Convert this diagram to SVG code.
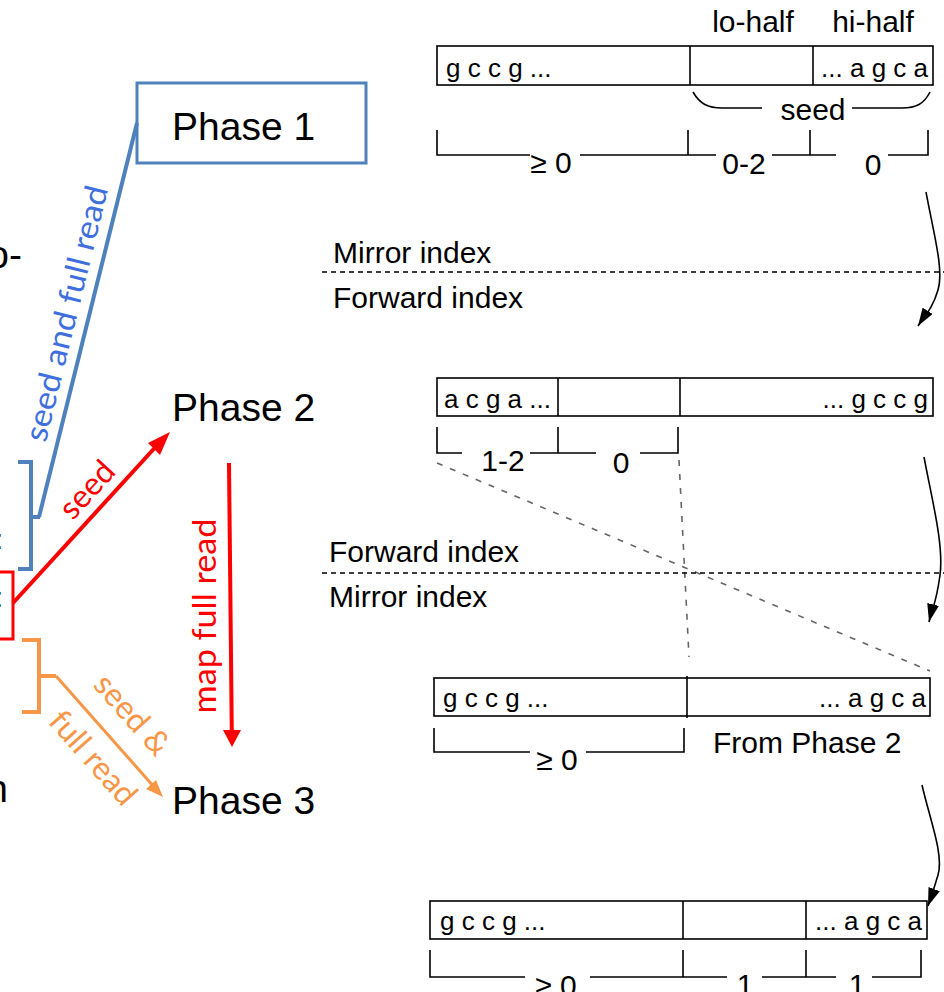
<svg xmlns="http://www.w3.org/2000/svg" width="944" height="992" viewBox="0 0 944 992">
  <style>
    .sans { font-family: "Liberation Sans", Arial, Helvetica, sans-serif; fill: #000; }
    .phase { font-size: 39px; }
    .lbl { font-size: 30px; }
    .seq { font-size: 26px; }
    .hand { font-family: Lato, "Open Sans", sans-serif; font-size: 32px; }
    .bar { fill: #fff; stroke: #000; stroke-width: 1.6; }
    .thin { fill: none; stroke: #000; stroke-width: 1.6; }
    .hdash { fill: none; stroke: #000; stroke-width: 1.6; stroke-dasharray: 5 4; }
    .gdash { fill: none; stroke: #666; stroke-width: 1.6; stroke-dasharray: 6 8; }
  </style>
  <defs>
    <marker id="headBlack" viewBox="0 0 18 12" refX="18" refY="6" markerWidth="18" markerHeight="12" markerUnits="userSpaceOnUse" orient="auto">
      <path d="M0,0 L18,6 L0,12 z" fill="#000"/>
    </marker>
  </defs>
  <rect width="944" height="992" fill="#fff"/>

  <!-- partial labels cut at the left margin -->
  <g id="edge-text" class="sans">
    <text class="phase" x="22" y="268" text-anchor="end">o-</text>
    <text x="3" y="549" font-size="28" text-anchor="end">:</text>
    <text x="3" y="607" font-size="28" text-anchor="end">:</text>
    <text class="phase" x="8" y="802" text-anchor="end">n</text>
  </g>

  <!-- phase nodes -->
  <g id="phase1">
    <rect x="137" y="83" width="229" height="80" fill="#fff" stroke="#4f81bd" stroke-width="3"/>
    <text class="sans phase" x="172" y="140">Phase 1</text>
  </g>
  <g id="phase2">
    <text class="sans phase" x="172" y="421">Phase 2</text>
  </g>
  <g id="phase3">
    <text class="sans phase" x="172" y="814">Phase 3</text>
  </g>

  <!-- groupings on the left -->
  <g id="blue-bracket">
    <path d="M18 462 H31 V569 H18 M31 517 H40" fill="none" stroke="#4f81bd" stroke-width="4"/>
  </g>
  <g id="red-box">
    <rect x="-10" y="572" width="23" height="67" fill="none" stroke="#ff0000" stroke-width="3"/>
  </g>
  <g id="orange-bracket">
    <path d="M22 640 H39 V712 H22 M39 676 H56" fill="none" stroke="#f79646" stroke-width="4"/>
  </g>

  <!-- connectors between groups and phases -->
  <g id="connectors">
    <line x1="39" y1="517" x2="137" y2="123" stroke="#4f81bd" stroke-width="4"/>
    <text class="hand" fill="#3e6fdc" text-anchor="middle" textLength="262" lengthAdjust="spacingAndGlyphs" transform="translate(77 316) rotate(-76.2)">seed and full read</text>

    <line x1="13" y1="603" x2="161" y2="441" stroke="#ff0000" stroke-width="4"/>
    <polygon points="170,432 148,443 160,455" fill="#ff0000"/>
    <text class="hand" fill="#ff0000" text-anchor="middle" transform="translate(95 497) rotate(-47.4)">seed</text>

    <line x1="229" y1="463" x2="231.8" y2="733" stroke="#ff0000" stroke-width="4"/>
    <polygon points="232,747 223,730 241,730" fill="#ff0000"/>
    <text class="hand" fill="#ff0000" text-anchor="middle" textLength="195" lengthAdjust="spacingAndGlyphs" transform="translate(216 616) rotate(-90)">map full read</text>

    <line x1="56" y1="676" x2="155" y2="788" stroke="#f79646" stroke-width="3"/>
    <polygon points="163,797 146,789 156,780" fill="#f79646"/>
    <text class="hand" fill="#f79646" text-anchor="middle" transform="translate(124 722) rotate(48.5)">seed &amp;</text>
    <text class="hand" fill="#f79646" text-anchor="middle" transform="translate(85 765) rotate(48.5)">full read</text>

    <!-- transitions between read layouts -->
    <path d="M926 192 C934 235 944 270 938 290 S925 315 918 326" class="thin" marker-end="url(#headBlack)"/>
    <path d="M924 457 C932 500 944 545 940 575 S933 605 929 622" class="thin" marker-end="url(#headBlack)"/>
    <path d="M922 785 C930 820 944 855 938 875 S932 895 928 906" class="thin" marker-end="url(#headBlack)"/>
  </g>

  <!-- layout 1: mirror index -->
  <g id="read1" class="sans">
    <text class="lbl" x="753" y="32" text-anchor="middle">lo-half</text>
    <text class="lbl" x="873" y="32" text-anchor="middle">hi-half</text>
    <rect class="bar" x="437" y="46" width="496" height="39"/>
    <line class="thin" x1="690" y1="46" x2="690" y2="85"/>
    <line class="thin" x1="813" y1="46" x2="813" y2="85"/>
    <text class="seq" x="446" y="77">g c c g ...</text>
    <text class="seq" x="928" y="77" text-anchor="end">... a g c a</text>
    <path class="thin" d="M693 92 C700 104 708 108 722 108 H762 M852 108 H902 C916 108 924 104 930 92"/>
    <text class="lbl" x="813" y="120" text-anchor="middle">seed</text>
    <path class="thin" d="M437 130 V155 H530 M580 155 H688 V130 M688 155 H716 M772 155 H810 V130 M810 155 H836 M888 155 H928 V130"/>
    <text class="lbl" x="551" y="173" text-anchor="middle">≥ 0</text>
    <text class="lbl" x="744" y="174" text-anchor="middle">0-2</text>
    <text class="lbl" x="873" y="175" text-anchor="middle">0</text>
  </g>

  <g id="divider1" class="sans">
    <text class="lbl" x="333" y="263">Mirror index</text>
    <line class="hdash" x1="322" y1="272" x2="944" y2="272"/>
    <text class="lbl" x="333" y="308">Forward index</text>
  </g>

  <!-- layout 2: forward index -->
  <g id="read2" class="sans">
    <rect class="bar" x="437" y="378" width="496" height="38"/>
    <line class="thin" x1="558" y1="378" x2="558" y2="416"/>
    <line class="thin" x1="680" y1="378" x2="680" y2="416"/>
    <text class="seq" x="444" y="408">a c g a ...</text>
    <text class="seq" x="928" y="408" text-anchor="end">... g c c g</text>
    <path class="thin" d="M437 427 V453 H462 M530 453 H558 V427 M558 453 H596 M640 453 H678 V427"/>
    <text class="lbl" x="503" y="471" text-anchor="middle">1-2</text>
    <text class="lbl" x="621" y="473" text-anchor="middle">0</text>
  </g>

  <g id="divider2" class="sans">
    <line class="gdash" x1="437" y1="463" x2="930" y2="671"/>
    <line class="gdash" x1="679" y1="460" x2="689" y2="657"/>
    <text class="lbl" x="329" y="562">Forward index</text>
    <line class="hdash" x1="322" y1="573" x2="944" y2="573"/>
    <text class="lbl" x="329" y="607">Mirror index</text>
  </g>

  <!-- layout 3: mirror index -->
  <g id="read3" class="sans">
    <rect class="bar" x="434" y="678" width="496" height="38"/>
    <line class="thin" x1="687" y1="676" x2="687" y2="718"/>
    <text class="seq" x="443" y="707">g c c g ...</text>
    <text class="seq" x="926" y="707" text-anchor="end">... a g c a</text>
    <path class="thin" d="M434 728 V752 H530 M586 752 H684 V728"/>
    <text class="lbl" x="557" y="770" text-anchor="middle">≥ 0</text>
    <text class="lbl" x="713" y="753">From Phase 2</text>
  </g>

  <!-- layout 4: forward index -->
  <g id="read4" class="sans">
    <rect class="bar" x="430" y="901" width="497" height="38"/>
    <line class="thin" x1="683" y1="901" x2="683" y2="939"/>
    <line class="thin" x1="806" y1="901" x2="806" y2="939"/>
    <text class="seq" x="440" y="930">g c c g ...</text>
    <text class="seq" x="922" y="930" text-anchor="end">... a g c a</text>
    <path class="thin" d="M430 950 V977 H525 M590 977 H683 V950 M683 977 H727 M762 977 H806 V950 M806 977 H836 M872 977 H921 V950"/>
    <text class="lbl" x="556" y="996" text-anchor="middle">≥ 0</text>
    <text class="lbl" x="745" y="995" text-anchor="middle">1</text>
    <text class="lbl" x="857" y="995" text-anchor="middle">1</text>
  </g>
</svg>
